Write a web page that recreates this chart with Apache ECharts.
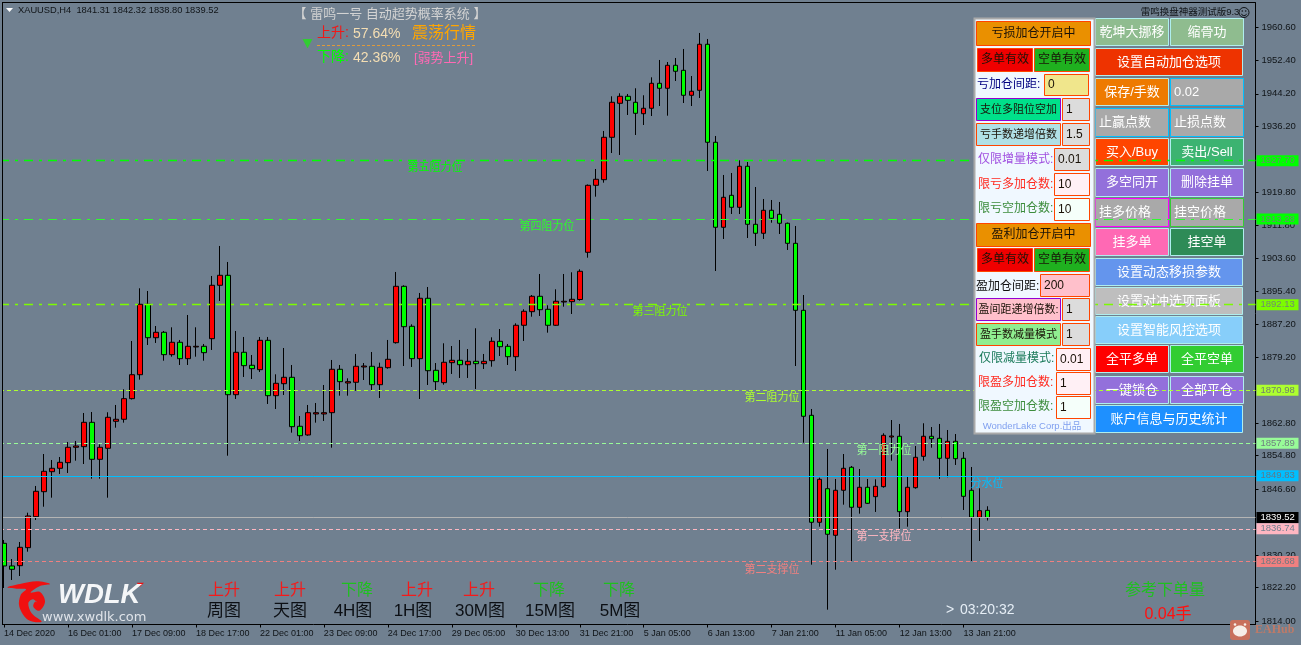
<!DOCTYPE html>
<html>
<head>
<meta charset="utf-8">
<style>html,body{margin:0;padding:0;background:#708090}#c{width:1301px;height:645px}</style>
<script src="https://cdn.jsdelivr.net/npm/echarts@6/dist/echarts.min.js"></script>
</head>
<body>
<div id="c"></div>
<script>
// ---- data ----
const opens = [1833.17,1827.57,1827.64,1832.09,1839.74,1845.92,1850.86,1851.70,1853.09,1856.89,
1857.04,1863.06,1853.92,1856.64,1863.31,1863.81,1868.90,1874.82,1892.22,1883.96,
1885.30,1879.77,1882.83,1878.78,1881.67,1881.84,1883.72,1896.91,1899.38,1869.88,
1880.36,1877.15,1876.06,1883.32,1869.64,1872.60,1874.18,1862.08,1859.93,1865.12,
1865.12,1865.44,1876.16,1872.77,1872.95,1876.73,1876.90,1872.35,1876.55,1882.73,
1896.66,1886.78,1878.78,1893.70,1875.91,1872.85,1877.79,1878.38,1877.29,1878.13,
1877.54,1878.28,1883.07,1881.84,1879.27,1887.03,1890.39,1894.19,1890.98,1887.03,
1892.78,1892.86,1893.40,1905.06,1921.61,1923.00,1933.47,1941.87,1943.60,1942.12,
1939.30,1940.64,1946.81,1945.58,1951.26,1950.02,1943.85,1945.08,1956.45,1932.24,
1911.24,1919.14,1916.18,1926.31,1911.98,1909.76,1915.44,1914.45,1912.23,1907.28,
1890.73,1864.79,1838.36,1846.66,1835.15,1846.27,1851.95,1842.07,1847.01,1844.69,
1847.16,1859.43,1859.61,1840.98,1846.91,1854.66,1859.61,1859.11,1854.17,1858.37,
1854.17,1846.27,1839.60,1841.31];
const closes = [1827.57,1826.75,1832.18,1839.92,1846.02,1850.96,1851.70,1853.18,1856.89,1857.21,
1863.06,1853.92,1856.89,1864.30,1863.81,1868.90,1874.82,1892.22,1883.96,1885.30,
1879.77,1882.83,1878.78,1881.84,1881.84,1880.26,1896.91,1899.38,1869.88,1880.36,
1877.05,1876.31,1883.32,1869.64,1872.70,1874.18,1861.98,1859.75,1865.44,1865.44,
1865.44,1876.16,1873.10,1873.10,1876.90,1876.97,1872.35,1876.65,1878.63,1896.66,
1886.68,1878.78,1893.70,1875.81,1873.10,1877.89,1878.38,1877.29,1878.13,1877.54,
1878.13,1883.07,1881.74,1879.27,1887.03,1890.49,1894.19,1890.88,1887.03,1892.96,
1892.96,1893.45,1900.37,1921.61,1923.10,1933.47,1942.12,1943.60,1942.61,1939.40,
1940.64,1946.81,1945.58,1951.26,1949.78,1943.85,1944.84,1956.45,1932.24,1911.24,
1918.65,1916.18,1926.31,1911.98,1909.76,1915.44,1913.46,1912.23,1907.28,1890.73,
1864.55,1838.36,1848.98,1835.40,1846.27,1851.70,1842.07,1847.01,1843.05,1847.25,
1859.85,1859.68,1840.98,1847.01,1854.42,1859.61,1859.01,1854.17,1858.37,1854.07,
1844.78,1839.60,1841.23,1839.52];
const highs = [1833.99,1829.29,1833.49,1840.73,1847.33,1855.23,1853.75,1854.49,1858.20,1858.45,
1865.36,1865.61,1857.63,1865.54,1867.34,1871.22,1883.15,1896.17,1895.50,1886.85,
1885.62,1886.53,1883.40,1889.57,1886.53,1882.41,1899.21,1906.62,1902.67,1885.62,
1884.14,1879.69,1884.14,1884.14,1874.92,1881.42,1877.22,1864.62,1867.34,1867.83,
1872.28,1878.46,1877.22,1873.93,1879.94,1877.71,1880.43,1877.79,1883.40,1900.20,
1896.90,1887.27,1895.01,1896.49,1877.71,1882.58,1881.91,1883.40,1881.17,1886.29,
1879.94,1884.06,1886.11,1882.41,1887.52,1890.98,1894.51,1899.70,1891.97,1895.92,
1899.70,1900.12,1900.86,1921.81,1925.64,1935.03,1943.60,1944.34,1944.17,1945.58,
1943.85,1948.29,1952.57,1952.07,1953.06,1955.29,1948.61,1959.24,1957.76,1933.79,
1924.16,1924.65,1927.79,1927.37,1921.19,1918.23,1917.98,1917.49,1912.40,1911.56,
1894.51,1866.35,1849.38,1856.47,1849.06,1855.23,1852.27,1851.53,1849.06,1848.98,
1860.35,1863.63,1862.65,1849.55,1857.21,1862.82,1861.90,1862.65,1861.16,1860.17,
1855.73,1852.02,1846.76,1842.32];
const lows = [1822.13,1824.11,1825.09,1831.10,1838.93,1842.21,1844.44,1850.29,1850.54,1853.58,
1852.76,1849.13,1849.13,1844.44,1861.73,1862.97,1868.70,1873.59,1882.16,1882.66,
1878.28,1879.27,1877.22,1877.22,1879.27,1878.28,1880.93,1893.03,1854.81,1868.82,
1874.26,1873.76,1875.49,1867.59,1866.35,1869.81,1860.50,1858.45,1859.75,1862.97,
1863.39,1856.79,1869.64,1869.64,1870.87,1873.51,1871.04,1869.07,1876.31,1882.50,
1876.97,1876.73,1868.82,1872.28,1871.04,1872.35,1875.00,1874.01,1874.01,1871.29,
1876.23,1876.80,1879.44,1877.22,1875.74,1883.15,1889.15,1889.33,1885.20,1886.90,
1891.62,1889.82,1893.11,1903.73,1918.80,1922.26,1929.59,1929.10,1938.98,1934.04,
1936.51,1938.73,1941.20,1938.81,1947.38,1941.94,1941.20,1943.18,1925.15,1900.44,
1908.35,1914.52,1914.52,1908.59,1906.62,1908.35,1912.37,1909.58,1905.63,1876.97,
1858.02,1827.89,1837.27,1816.77,1826.65,1842.71,1828.80,1840.49,1842.90,1840.91,
1846.91,1853.58,1836.78,1837.27,1846.66,1853.58,1856.79,1849.06,1849.48,1852.52,
1841.40,1828.80,1833.74,1838.80];
const timeLabels = ['14 Dec 2020','16 Dec 01:00','17 Dec 09:00','18 Dec 17:00','22 Dec 01:00','23 Dec 09:00',
'24 Dec 17:00','29 Dec 05:00','30 Dec 13:00','31 Dec 21:00','5 Jan 05:00','6 Jan 13:00','7 Jan 21:00',
'11 Jan 05:00','12 Jan 13:00','13 Jan 21:00'];
const priceTicks = [1960.60,1952.40,1944.20,1936.20,1919.80,1911.80,1903.60,1895.40,1887.20,1879.20,1862.80,1854.80,1846.60,1830.20,1822.20,1814.00];
const levelPrices = [1927.70,1913.28,1892.13,1870.98,1857.89,1849.83,1839.52,1836.74,1828.68];
const levelNames = ['第五阻力位','第四阻力位','第三阻力位','第二阻力位','第一阻力位','分水位','','第一支撑位','第二支撑位'];
const timeframes = ['周图','天图','4H图','1H图','30M图','15M图','5M图'];
const trends = ['上升','上升','下降','上升','上升','下降','下降'];

// ---- layout & styles ----
const DD = [9,6,3,6], DS = [4,3];
const levelStyles = [
 {c:'#00ff00',t:DD,w:1.4,box:'#00ff00',tc:'#6a8a70',lx:435,ly:168},
 {c:'#2dfb2d',t:DD,w:1,box:'#00ff00',tc:'#6a8a70',lx:547,ly:227},
 {c:'#7cfc00',t:DD,w:1.4,box:'#7cfc00',tc:'#708a70',lx:660,ly:312},
 {c:'#adff2f',t:DS,w:1,box:'#adff2f',tc:'#708070',lx:772,ly:398},
 {c:'#98fb98',t:DS,w:1,box:'#98fb98',tc:'#708080',lx:884,ly:451},
 {c:'#00bfff',t:'solid',w:1,box:'#00bfff',tc:'#607888',lx:987,ly:484},
 {c:'#b4b4b4',t:'solid',w:1,box:'#000000',tc:'#ffffff',lx:0,ly:0},
 {c:'#ffb6c1',t:DS,w:1,box:'#ffb6c1',tc:'#708090',lx:884,ly:537},
 {c:'#f08080',t:DS,w:1,box:'#f08080',tc:'#707880',lx:772,ly:570}
];
const CJK = '"Liberation Sans","Noto Sans CJK SC"';
const g = [];
function R(x,y,w,h,fill,stroke,z,lw){g.push({type:'rect',silent:true,z:z,shape:{x:x,y:y,width:w,height:h},style:{fill:fill,stroke:stroke||null,lineWidth:lw||(stroke?1:0)}});}
function T(x,y,s,size,fill,z,align,extra,fam){g.push({type:'text',silent:true,z:z,x:x,y:y,style:{text:s,fill:fill,font:(extra||'')+' '+size+'px '+(fam||CJK),textAlign:align||'center',textVerticalAlign:'middle'}});}

// frame
R(0,0,2,645,'#708090',null,6);
R(2,2,1253,1,'#000',null,6);
R(2,2,1,623,'#000',null,6);

// header
g.push({type:'polygon',silent:true,z:20,shape:{points:[[6,8],[13,8],[9.5,12]]},style:{fill:'#fff'}});
T(18,10.5,'XAUUSD,H4  1841.31 1842.32 1838.80 1839.52',9.3,'#101418',20,'left');
T(390,14.5,'【 雷鸣一号 自动超势概率系统 】',13,'#d3d3d3',20);
g.push({type:'polygon',silent:true,z:20,shape:{points:[[302.5,39],[312.5,39],[307.5,48.5]]},style:{fill:'#32cd32'}});
T(317,33.5,'上升:',14,'#f01818',20,'left');
T(353,34.5,'57.64%',14,'#f5deb3',20,'left');
T(412,34,'震荡行情',16,'#ffa500',20,'left');
g.push({type:'line',silent:true,z:20,shape:{x1:317,y1:45.5,x2:476,y2:45.5},style:{stroke:'#e09a3a',lineDash:[3,2],lineWidth:1}});
T(317,57.5,'下降:',14,'#00ff00',20,'left');
T(353,58.5,'42.36%',14,'#f5deb3',20,'left');
T(414,58,'[弱势上升]',13,'#ff69b4',20,'left');
T(1190,12,'雷鸣换盘神器测试版9.3',9.5,'#101418',20,'center');
g.push({type:'circle',silent:true,z:20,shape:{cx:1244,cy:12.5,r:5},style:{fill:'none',stroke:'#101418',lineWidth:1}});
g.push({type:'circle',silent:true,z:20,shape:{cx:1242.3,cy:11,r:0.8},style:{fill:'#101418'}});
g.push({type:'circle',silent:true,z:20,shape:{cx:1245.7,cy:11,r:0.8},style:{fill:'#101418'}});
g.push({type:'arc',silent:true,z:20,shape:{cx:1244,cy:13,r:2.7,startAngle:0.3,endAngle:2.85},style:{fill:'none',stroke:'#101418',lineWidth:1}});

// level names
levelNames.forEach((n,i)=>{ if(n) T(levelStyles[i].lx,levelStyles[i].ly,n,11,levelStyles[i].c,4); });

// timeframes
const tfTrendX=[224,290,357,417,479,549,619], tfX=[224,290,353,413,480,550,620];
const tfTrendC={'上升':'#f51a1a','下降':'#1fc01f'};
timeframes.forEach((n,i)=>{ T(tfTrendX[i],590.5,trends[i],16,tfTrendC[trends[i]],20); T(tfX[i],611.5,n,17,'#0c0f14',20); });
T(946,610,'>',14,'#e6eef6',20,'left');
T(960,610,'03:20:32',14,'#e6eef6',20,'left');
T(1165,590.5,'参考下单量',16,'#1fc01f',20);
T(1168,615,'0.04手',16,'#ff1010',20);

// logo
g.push({type:'polygon',silent:true,z:20,x:0,y:570,scaleX:1/3,scaleY:1/3,
 shape:{smooth:0.35,points:[[22,52],[60,42],[110,34],[150,42],[120,48],[92,68],[120,66],[135,95],[118,122],[100,110],[105,95],[112,98],[98,88],[85,100],[95,130],[125,155],[85,150],[58,110],[62,75],[78,58],[50,56]]},
 style:{fill:'#f01010'}});
g.push({type:'polygon',silent:true,z:20,x:0,y:570,scaleX:1/3,scaleY:1/3,shape:{points:[[410,38],[432,38],[420,50]]},style:{fill:'#f01010'}});
T(58,595.5,'WDLK',27.5,'#f4f6f8',20,'left','italic bold');
T(42,618,'www.xwdlk.com',13,'#dfe3e9',20,'left','','"DejaVu Sans"');

// EAHub watermark
g.push({type:'rect',silent:true,z:20,shape:{x:1230,y:620,width:20,height:20,r:3},style:{fill:'#c8705c'}});
g.push({type:'ellipse',silent:true,z:21,shape:{cx:1240,cy:631,rx:7,ry:5.5},style:{fill:'#f6eee8'}});
g.push({type:'circle',silent:true,z:21,shape:{cx:1235,cy:624.5,r:1.3},style:{fill:'#f6eee8'}});
g.push({type:'circle',silent:true,z:21,shape:{cx:1245,cy:624.5,r:1.3},style:{fill:'#f6eee8'}});
T(1255,630,'EAHub',12,'#bd7a68',20,'left','bold','"Liberation Serif"');

// left panel
const PZ=10, OR='#ff4500', PU='#9400d3';
R(974.5,18.5,120,415,'#f0f8ff','#a9a9a9',PZ,2);
function pb(x,y,w,h,fill,stroke,label,size,tc,align){
 R(x+.5,y+.5,w-1,h-1,fill,stroke,PZ+1);
 if(align==='left') T(x+4,y+h/2,label,size,tc,PZ+2,'left'); else T(x+w/2,y+h/2,label,size,tc,PZ+2);
}
const ORG='#ea9000', DK='#1a1208';
pb(976,21,115,25,ORG,OR,'亏损加仓开启中',12,DK);
pb(977,48,56,24,'#f00000',OR,'多单有效',12,DK);
pb(1034,48,56,24,'#1fb01f',OR,'空单有效',12,DK);
T(977,85,'亏加仓间距:',12,'#000080',PZ+2,'left');
pb(1044,74,45,22,'#f0e68c',OR,'0',12,DK,'left');
pb(976,98,85,23,'#00e08a',PU,'支位多阻位空加',11,DK);
pb(1062,98,28,23,'#dcdcdc',OR,'1',12,DK,'left');
pb(976,123,85,23,'#b0e0e6',OR,'亏手数递增倍数',11,DK);
pb(1062,123,28,23,'#dcdcdc',OR,'1.5',12,DK,'left');
T(978,160,'仅限增量模式:',12,'#a050e0',PZ+2,'left');
pb(1054,148,36,23,'#dcdcdc',OR,'0.01',12,DK,'left');
T(978,185,'限亏多加仓数:',12,'#ff2a20',PZ+2,'left');
pb(1054,173,36,23,'#fff0f5',OR,'10',12,DK,'left');
T(978,209,'限亏空加仓数:',12,'#3c8c3c',PZ+2,'left');
pb(1054,198,36,23,'#f5fffa',OR,'10',12,DK,'left');
pb(976,223,115,24,ORG,OR,'盈利加仓开启中',12,DK);
pb(977,248,56,24,'#f00000',OR,'多单有效',12,DK);
pb(1034,248,56,24,'#1fb01f',OR,'空单有效',12,DK);
T(976,287,'盈加仓间距:',12,'#101010',PZ+2,'left');
pb(1040,274,50,23,'#ffc0cb',OR,'200',12,DK,'left');
pb(976,298,85,23,'#ffc0cb',PU,'盈间距递增倍数:',11,DK);
pb(1062,298,28,23,'#dcdcdc',OR,'1',12,DK,'left');
pb(976,323,85,23,'#90ee90',OR,'盈手数减量模式',11,DK);
pb(1062,323,28,23,'#dcdcdc',OR,'1',12,DK,'left');
T(979,359,'仅限减量模式:',12,'#1a7a5a',PZ+2,'left');
pb(1056,348,35,23,'#fff0f5',OR,'0.01',12,DK,'left');
T(978,383,'限盈多加仓数:',12,'#ff2a20',PZ+2,'left');
pb(1056,372,35,23,'#fff0f5',OR,'1',12,DK,'left');
T(978,407,'限盈空加仓数:',12,'#3c8c3c',PZ+2,'left');
pb(1056,396,35,23,'#f5fffa',OR,'1',12,DK,'left');
T(1032,426,'WonderLake Corp.出品',9.5,'#7f9fef',PZ+2);

// right panel (under the level lines)
const BZ=1, TQ='#afeeee', DS2='#00bfff', W='#ffffff', C1=1095, C2=1170, CW=74, FW=148;
function bb(x,y,w,h,fill,stroke,label,align){
 R(x+.5,y+.5,w-1,h-1,fill,stroke,BZ);
 if(align==='left') T(x+4,y+h/2,label,13,W,BZ,'left'); else T(x+w/2,y+h/2,label,13,W,BZ);
}
bb(C1,18,CW,28,'#8fbc8f',TQ,'乾坤大挪移'); bb(C2,18,CW,28,'#8fbc8f',TQ,'缩骨功');
bb(C1,48,FW,28,'#ee3300',TQ,'设置自动加仓选项');
bb(C1,78,CW,28,'#ee7a00',TQ,'保存/手数'); bb(C2,78,CW,28,'#a9a9a9',DS2,'0.02','left');
bb(C1,108,CW,29,'#a9a9a9',DS2,'止赢点数','left'); bb(C2,108,CW,29,'#a9a9a9',DS2,'止损点数','left');
bb(C1,138,CW,28,'#ff4500',TQ,'买入/Buy'); bb(C2,138,CW,28,'#3cb371',TQ,'卖出/Sell');
bb(C1,168,CW,29,'#9370db',TQ,'多空同开'); bb(C2,168,CW,29,'#9370db',TQ,'删除挂单');
bb(C1,198,CW,29,'#a9a9a9','#ff00ff','挂多价格','left'); bb(C2,198,CW,29,'#a9a9a9','#32cd32','挂空价格','left');
bb(C1,228,CW,28,'#ff69b4',TQ,'挂多单'); bb(C2,228,CW,28,'#2e8b57',TQ,'挂空单');
bb(C1,258,FW,28,'#6495ed',TQ,'设置动态移损参数');
bb(C1,287,FW,28,'#bebebe',TQ,'设置对冲选项面板');
bb(C1,316,FW,28,'#87cefa',TQ,'设置智能风控选项');
bb(C1,345,CW,28,'#ff0000',TQ,'全平多单'); bb(C2,345,CW,28,'#32cd32',TQ,'全平空单');
bb(C1,376,CW,28,'#9370db',TQ,'一键锁仓'); bb(C2,376,CW,28,'#9370db',TQ,'全部平仓');
bb(C1,405,FW,28,'#1e90ff',TQ,'账户信息与历史统计');

// ---- chart ----
const STEP = 8, SLOTS = 157;
const categories = Array.from({length:SLOTS},(_,i)=> (i%STEP===0 && timeLabels[i/STEP]) ? timeLabels[i/STEP] : '');
const isTick = i => i%STEP===0 && i/STEP<timeLabels.length;
const fmt = v => v.toFixed(2);
const chart = echarts.init(document.getElementById('c'),null,{renderer:'canvas'});
chart.setOption({
 animation:false,
 backgroundColor:'#708090',
 tooltip:{show:false},
 grid:{left:-0.5,top:2.5,width:STEP*SLOTS,bottom:20.5,containLabel:false,show:false},
 xAxis:{type:'category',data:categories,boundaryGap:true,
  axisLine:{show:true,onZero:false,lineStyle:{color:'#000',width:1}},
  axisTick:{show:true,alignWithLabel:true,length:3,interval:(i)=>isTick(i),lineStyle:{color:'#000'}},
  axisLabel:{show:true,interval:(i)=>isTick(i),hideOverlap:false,align:'left',margin:5,color:'#101418',fontFamily:'Liberation Sans',fontSize:9},
  splitLine:{show:false}},
 yAxis:{type:'value',position:'right',min:1813.11,max:1966.77,scale:true,
  axisLine:{show:true,onZero:false,lineStyle:{color:'#000',width:1}},
  axisTick:{show:true,length:3,customValues:priceTicks,lineStyle:{color:'#000'}},
  axisLabel:{show:true,customValues:priceTicks,formatter:fmt,margin:6,color:'#101418',fontFamily:'Liberation Sans',fontSize:9.5},
  splitLine:{show:false}},
 series:[
  {type:'line',name:'levels',z:2,data:[],silent:true,
   markLine:{silent:true,symbol:'none',animation:false,precision:2,
    data:levelPrices.map((p,i)=>({yAxis:p,
      lineStyle:{color:levelStyles[i].c,type:levelStyles[i].t,width:levelStyles[i].w},
      label:{show:true,position:'end',distance:1,formatter:fmt(p),
        backgroundColor:levelStyles[i].box,color:levelStyles[i].tc,
        fontFamily:'Liberation Sans',fontSize:9.5,padding:[1,4,0,4],lineHeight:10,width:34,align:'left',verticalAlign:'middle'}}))}},
  {type:'candlestick',name:'XAUUSD,H4',z:3,barWidth:5,silent:true,clip:true,
   itemStyle:{color:'#ff0000',color0:'#00ff00',borderColor:'#000',borderColor0:'#000',borderWidth:1},
   data:opens.map((o,i)=>[o,closes[i],lows[i],highs[i]])}
 ],
 graphic:{elements:g}
});
</script>
</body>
</html>
